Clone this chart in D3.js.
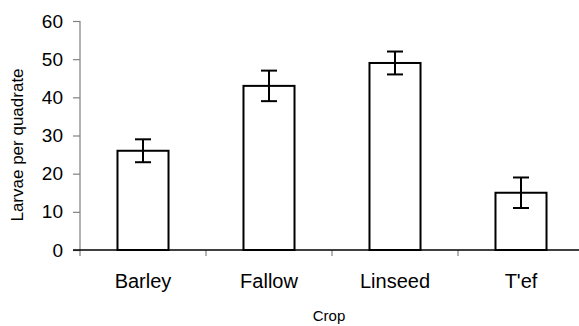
<!DOCTYPE html>
<html>
<head>
<meta charset="utf-8">
<script src="https://cdn.jsdelivr.net/npm/d3@7"></script>
<style>
  html, body { margin: 0; padding: 0; background: #fff; }
  svg { display: block; font-family: "Liberation Sans", Arial, sans-serif; }
</style>
</head>
<body>
<svg id="chart" width="579" height="326"></svg>
<script>
// Mean larvae counts per quadrate by crop, with error half-widths
const crops = ["Barley", "Fallow", "Linseed", "T'ef"];
const larvae = [26, 43, 49, 15];
const errors = [3, 4, 3, 4];
const yTicks = [0, 10, 20, 30, 40, 50, 60];

const svg = d3.select("#chart");
const plotLeft = 80, plotRight = 584, plotTop = 21, plotBottom = 250;

const x = d3.scaleBand().domain(crops).range([plotLeft, plotRight]).padding(0);
const y = d3.scaleLinear().domain([0, 60]).range([plotBottom, plotTop]);
const barW = x.bandwidth() * 0.405;
const capW = 16;

// y axis
const yAxis = svg.append("g")
  .attr("transform", `translate(${plotLeft},0)`)
  .call(d3.axisLeft(y).tickValues(yTicks).tickSize(7).tickPadding(10));
yAxis.select(".domain").attr("stroke", "#808080").attr("stroke-width", 1.2)
  .attr("d", `M-7,${plotTop + 0.5}H0V${plotBottom}`);
yAxis.selectAll(".tick line").attr("stroke", "#808080").attr("stroke-width", 1.2);
yAxis.selectAll(".tick text").attr("fill", "#000").attr("font-size", 19)
  .attr("font-family", "Liberation Sans, Arial, sans-serif");

// x axis: category boundaries as ticks
const boundaries = crops.map(c => x(c)).concat([plotRight]);
svg.append("g").selectAll("line").data(boundaries).join("line")
  .attr("x1", d => d).attr("x2", d => d)
  .attr("y1", plotBottom).attr("y2", plotBottom + 6)
  .attr("stroke", "#808080").attr("stroke-width", 1.2);
svg.append("line")
  .attr("x1", plotLeft - 7).attr("x2", plotRight)
  .attr("y1", plotBottom).attr("y2", plotBottom)
  .attr("stroke", "#000").attr("stroke-width", 1.3);

svg.append("g").selectAll("text").data(crops).join("text")
  .attr("x", d => x(d) + x.bandwidth() / 2)
  .attr("y", 288)
  .attr("text-anchor", "middle")
  .attr("font-size", 20)
  .text(d => d);

// bars
svg.append("g").selectAll("rect").data(crops).join("rect")
  .attr("x", d => x(d) + (x.bandwidth() - barW) / 2)
  .attr("y", (d, i) => y(larvae[i]))
  .attr("width", barW)
  .attr("height", (d, i) => y(0) - y(larvae[i]))
  .attr("fill", "#fff")
  .attr("stroke", "#000")
  .attr("stroke-width", 2);

// error bars
const eb = svg.append("g").attr("stroke", "#000").attr("stroke-width", 2);
crops.forEach((c, i) => {
  const cx = x(c) + x.bandwidth() / 2;
  const hi = y(larvae[i] + errors[i]);
  const lo = y(larvae[i] - errors[i]);
  eb.append("line").attr("x1", cx).attr("x2", cx).attr("y1", hi).attr("y2", lo);
  eb.append("line").attr("x1", cx - capW / 2).attr("x2", cx + capW / 2).attr("y1", hi).attr("y2", hi);
  eb.append("line").attr("x1", cx - capW / 2).attr("x2", cx + capW / 2).attr("y1", lo).attr("y2", lo);
});

// axis titles
svg.append("text")
  .attr("transform", "translate(23,145) rotate(-90)")
  .attr("text-anchor", "middle")
  .attr("font-size", 17)
  .text("Larvae per quadrate");

svg.append("text")
  .attr("x", 329).attr("y", 321)
  .attr("text-anchor", "middle")
  .attr("font-size", 15)
  .text("Crop");
</script>
</body>
</html>
